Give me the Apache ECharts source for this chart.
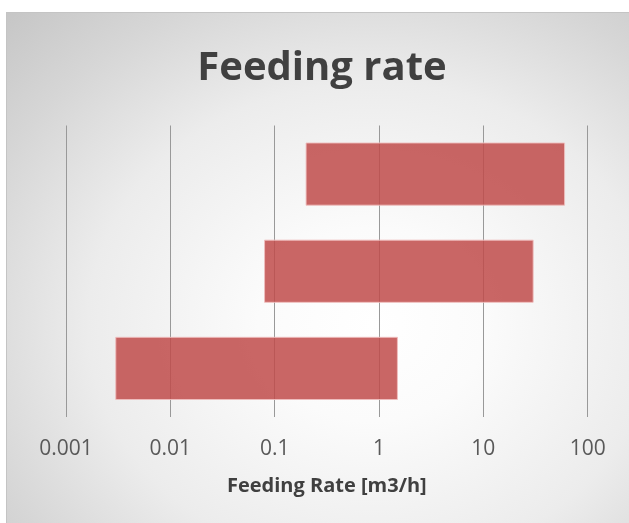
<!DOCTYPE html>
<html>
<head>
<meta charset="utf-8">
<script src="https://cdn.jsdelivr.net/npm/echarts@6/dist/echarts.min.js"></script>
<style>
  html, body { margin: 0; padding: 0; width: 629px; height: 523px; overflow: hidden; background: #ffffff; }
  #box {
    position: absolute; left: 6px; top: 12px; width: 630px; height: 520px;
    border-left: 1px solid #c4c4c4; border-top: 1px solid #c4c4c4; box-sizing: border-box;
    background: radial-gradient(ellipse farthest-corner at 58% 60%, #ffffff 0%, #fbfbfb 22%, #ececec 55%, #d6d6d6 80%, #c6c6c6 100%);
  }
  #chart { position: absolute; left: 0; top: 0; width: 630px; height: 520px; }
</style>
</head>
<body>
<div id="box"><div id="chart"></div></div>
<script>
// Data
const categories = ['Range 1', 'Range 2', 'Range 3'];   // bottom to top
const lowValues  = [0.003, 0.08, 0.2];
const highValues = [1.5, 30, 60];
const tickValues = [0.001, 0.01, 0.1, 1, 10, 100];
const titleText = 'Feeding rate';
const xAxisName = 'Feeding Rate [m3/h]';

const rangeData = categories.map((c, i) => [i, lowValues[i], highValues[i]]);

const chart = echarts.init(document.getElementById('chart'), null, { renderer: 'canvas' });

chart.setOption({
  backgroundColor: 'transparent',
  animation: false,
  title: {
    text: titleText,
    left: 'center',
    top: 31,
    textStyle: { fontFamily: 'Open Sans', fontWeight: 'bold', fontSize: 40, color: '#404040' }
  },
  grid: { left: 59, width: 521.7, top: 112.5, height: 291.5, containLabel: false },
  xAxis: {
    type: 'log',
    logBase: 10,
    min: 0.001,
    max: 100,
    name: xAxisName,
    nameLocation: 'middle',
    nameGap: 59,
    nameTextStyle: { fontFamily: 'Open Sans', fontWeight: 'bold', fontSize: 20, color: '#404040' },
    axisLine: { show: false },
    axisTick: { show: false },
    axisLabel: {
      margin: 22,
      fontFamily: 'Open Sans', fontSize: 21, color: '#595959',
      formatter: function (v) {
        const m = tickValues.find(t => Math.abs(Math.log10(t) - Math.log10(v)) < 1e-6);
        return m !== undefined ? String(m) : '';
      }
    },
    splitLine: { show: true, lineStyle: { color: '#999999', width: 1 } }
  },
  yAxis: {
    type: 'category',
    data: categories,
    axisLine: { show: false },
    axisTick: { show: false },
    axisLabel: { show: false },
    splitLine: { show: false }
  },
  series: [{
    type: 'custom',
    data: rangeData,
    encode: { x: [1, 2], y: 0 },
    renderItem: function (params, api) {
      const cat = api.value(0);
      const p0 = api.coord([api.value(1), cat]);
      const p1 = api.coord([api.value(2), cat]);
      const band = api.size([0, 1])[1];
      const h = band * 0.64;
      return {
        type: 'rect',
        shape: { x: p0[0], y: p0[1] - h / 2, width: p1[0] - p0[0], height: h },
        style: { fill: 'rgba(192,75,74,0.85)', stroke: 'rgba(240,190,190,0.9)', lineWidth: 1 }
      };
    }
  }]
});
</script>
</body>
</html>
